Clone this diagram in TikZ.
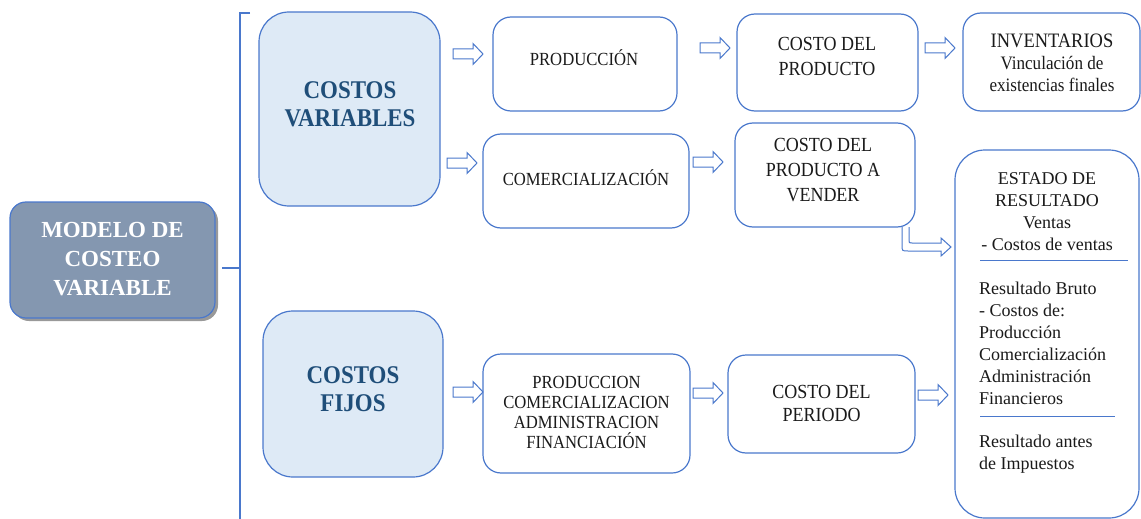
\documentclass[tikz,border=0pt]{standalone}
\usepackage{fontspec}
\setmainfont{Liberation Serif}
\newfontfamily\cond[FakeStretch=0.9]{Liberation Serif}
\usetikzlibrary{shadows}
\definecolor{bord}{HTML}{4A78CC}
\definecolor{lightfill}{HTML}{DEEAF6}
\definecolor{modfill}{HTML}{8497B0}
\definecolor{darktext}{HTML}{1F4E79}
\definecolor{txtgray}{HTML}{1A1A1A}
\begin{document}
\begin{tikzpicture}[x=1pt,y=-1pt,
  box/.style={draw=bord, line width=1.2pt, rounded corners=18pt, fill=white, inner sep=0pt},
  bigbox/.style={box, rounded corners=30pt, fill=lightfill},
  modbox/.style={box, fill=modfill, rounded corners=16pt,
     drop shadow={shadow xshift=3pt, shadow yshift=-3pt, opacity=0.4, fill=black}},
  txt/.style={font=\cond\fontsize{20}{25}\selectfont, align=center, text=txtgray, inner sep=0pt},
  smalltxt/.style={font=\cond\fontsize{18.5}{20}\selectfont, align=center, text=txtgray, inner sep=0pt},
  boldtxt/.style={font=\cond\fontsize{25.5}{28}\selectfont\bfseries, align=center, text=darktext, inner sep=0pt},
  modtxt/.style={font=\fontsize{23}{29}\selectfont\bfseries, align=center, text=white, inner sep=0pt},
  esttxt/.style={font=\fontsize{18}{22}\selectfont, text=txtgray, inner sep=0pt},
  bracket/.style={draw=bord, line width=1.2pt},
  rule/.style={draw=bord, line width=1pt},
  barr/.pic={\draw[bord, line width=1pt, fill=white] (0,-5) -- (20,-5) -- (20,-10.5) -- (30,0) -- (20,10.5) -- (20,5) -- (0,5) -- cycle;}
]
\useasboundingbox (0,0) rectangle (1141,519);

% left model box
\node[modbox, minimum width=205pt, minimum height=116pt] (modelo) at (112.5,260) {};
\node[modtxt] (modelot) at (112.5,259) {MODELO DE\\COSTEO\\VARIABLE};

% bracket
\coordinate (brtop) at (250,13);
\coordinate (brcorner) at (240,13);
\coordinate (brbot) at (240,519);
\coordinate (brmid) at (240,268);
\coordinate (brin) at (222,268);
\draw[bracket] (brtop) -- (brcorner) -- (brbot);
\draw[bracket] (brin) -- (brmid);

% big category boxes
\node[bigbox, minimum width=181pt, minimum height=194pt] (cv) at (349.5,109) {};
\node[boldtxt] (cvt) at (350,104) {COSTOS\\VARIABLES};
\node[bigbox, minimum width=180pt, minimum height=166pt] (cf) at (353,394) {};
\node[boldtxt] (cft) at (353,389) {COSTOS\\FIJOS};

% row 1
\node[box, minimum width=184pt, minimum height=94pt] (prod) at (585,64) {};
\node[smalltxt] (prodt) at (584,58) {PRODUCCIÓN};
\node[box, minimum width=181pt, minimum height=97pt] (cp) at (827.5,62.5) {};
\node[txt] (cpt) at (827,56) {COSTO DEL\\PRODUCTO};
\node[box, minimum width=177pt, minimum height=98pt] (inv) at (1051.5,62) {};
\node[txt, font=\cond\fontsize{20.5}{22}\selectfont] (invt) at (1052,63) {INVENTARIOS\\{\fontsize{19}{22}\selectfont Vinculación de}\\{\fontsize{19}{22}\selectfont existencias finales}};

% row 2
\node[box, minimum width=206pt, minimum height=94pt] (com) at (586,181) {};
\node[smalltxt] (comt) at (586,178) {COMERCIALIZACIÓN};
\node[box, minimum width=180pt, minimum height=104pt] (cpv) at (825,175) {};
\node[txt] (cpvt) at (823,170) {COSTO DEL\\PRODUCTO A\\VENDER};

% row 3
\node[box, minimum width=207pt, minimum height=119pt] (pcaf) at (586.5,413.5) {};
\node[smalltxt] (pcaft) at (586.5,412) {PRODUCCION\\COMERCIALIZACION\\ADMINISTRACION\\FINANCIACIÓN};
\node[box, minimum width=187pt, minimum height=98pt] (cdp) at (821.5,404) {};
\node[txt, font=\cond\fontsize{20}{23}\selectfont] (cdpt) at (821.5,403.5) {COSTO DEL\\PERIODO};

% estado de resultado
\node[box, rounded corners=30pt, minimum width=184pt, minimum height=368pt] (est) at (1047,334) {};
\node[esttxt, align=center] (est1) at (1047,211.5) {ESTADO DE\\RESULTADO\\Ventas\\- Costos de ventas};
\draw[rule] (980,260) -- (1128,260);
\node[esttxt, align=left, anchor=west] (est2) at (979,343) {Resultado Bruto\\- Costos de:\\Producción\\Comercialización\\Administración\\Financieros};
\draw[rule] (980,416) -- (1115,416);
\node[esttxt, align=left, anchor=west] (est3) at (979,454) {Resultado antes\\de Impuestos};

% block arrows
\pic (a1) at (453,54) {barr};
\pic (a2) at (700,48) {barr};
\pic (a3) at (925,48) {barr};
\pic (a4) at (447,163) {barr};
\pic (a5) at (693,162) {barr};
\pic (a6) at (453,392) {barr};
\pic (a7) at (693,393) {barr};
\pic (a8) at (918,395) {barr};

% bent arrow from cpv to estado
\draw[bord, line width=1pt, fill=white]
  (902,227) -- (902,245) .. controls (902,251) .. (908,251) -- (941,251) -- (941,256)
  -- (951,247) -- (941,238) -- (941,243) -- (912,243) .. controls (909,243) .. (909,240) -- (909,227);
\end{tikzpicture}
\end{document}
